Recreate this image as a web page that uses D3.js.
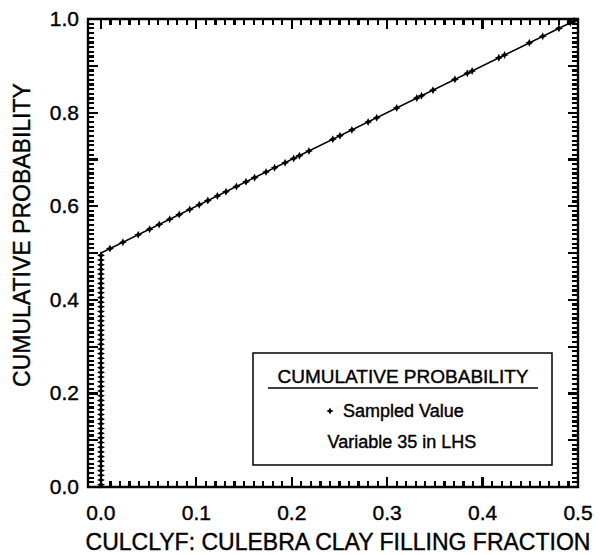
<!DOCTYPE html>
<html><head><meta charset="utf-8">
<script src="https://cdn.jsdelivr.net/npm/d3@7"></script>
<style>body{margin:0;background:#fff}</style>
</head><body><svg id="c" width="600" height="555"></svg>
<script>
const xTickValues=[0,0.1,0.2,0.3,0.4,0.5];
const xTickLabels=["0.0","0.1","0.2","0.3","0.4","0.5"];
const yTickValues=[0,0.2,0.4,0.6,0.8,1.0];
const yTickLabels=["0.0","0.2","0.4","0.6","0.8","1.0"];
const cdfX=[0,0,0.5];
const cdfY=[0,0.5,1.0];
const zeroSampleProbs=[0.005,0.015,0.025,0.035,0.045,0.055,0.065,0.075,0.085,0.095,0.105,0.115,0.125,0.135,0.145,0.155,0.165,0.175,0.185,0.195,0.205,0.215,0.225,0.235,0.245,0.255,0.265,0.275,0.285,0.295,0.305,0.315,0.325,0.335,0.345,0.355,0.365,0.375,0.385,0.395,0.405,0.415,0.425,0.435,0.445,0.455,0.465,0.475,0.485,0.495];
const positiveSamples=[0.0094,0.023,0.039,0.051,0.061,0.072,0.082,0.093,0.103,0.112,0.122,0.131,0.142,0.152,0.161,0.173,0.182,0.193,0.202,0.208,0.218,0.243,0.2505,0.263,0.280,0.289,0.310,0.331,0.336,0.348,0.371,0.384,0.389,0.417,0.423,0.449,0.463,0.480,0.492,0.496];
const xLabel="CULCLYF: CULEBRA CLAY FILLING FRACTION";
const yLabel="CUMULATIVE PROBABILITY";
const legendTitle="CUMULATIVE PROBABILITY";
const legendItem="Sampled Value";
const legendNote="Variable 35 in LHS";

const FONT="Liberation Sans, Arial, sans-serif";
const svg=d3.select("#c");
const L=88,R=578,T=19,B=487;
const x=d3.scaleLinear().domain([-0.0136,0.5]).range([L,R]);
const y=d3.scaleLinear().domain([0,1]).range([B,T]);
const minorX=[];for(let i=0;i<=50;i++)minorX.push(i/100);
const minorY=[];for(let i=0;i<=100;i++)minorY.push(i/100);
const isMajor=d=>Math.abs(d*10-Math.round(d*10))<1e-6;
const MINOR=6,MAJOR=10;

svg.append("path").attr("d",`M${L},${T}H${R}V${B}H${L}Z`).attr("fill","none").attr("stroke","#000").attr("stroke-width",2.4);

const tk=svg.append("g").attr("stroke","#000").attr("stroke-width",2.2).attr("shape-rendering","crispEdges");
tk.selectAll("line.b").data(minorX).join("line").attr("class","b")
  .attr("x1",d=>x(d)).attr("x2",d=>x(d)).attr("y1",B).attr("y2",d=>B-(isMajor(d)?MAJOR:MINOR));
tk.selectAll("line.t").data(minorX).join("line").attr("class","t")
  .attr("x1",d=>x(d)).attr("x2",d=>x(d)).attr("y1",T).attr("y2",d=>T+(isMajor(d)?MAJOR:MINOR));
tk.selectAll("line.l").data(minorY).join("line").attr("class","l")
  .attr("y1",d=>y(d)).attr("y2",d=>y(d)).attr("x1",L).attr("x2",d=>L+(isMajor(d)?MAJOR:MINOR));
tk.selectAll("line.r").data(minorY).join("line").attr("class","r")
  .attr("y1",d=>y(d)).attr("y2",d=>y(d)).attr("x1",R).attr("x2",d=>R-(isMajor(d)?MAJOR:MINOR));

function txt(sel){return sel.attr("font-family",FONT).attr("fill","#000").attr("stroke","#000").attr("stroke-width",0.4);}
txt(svg.append("g").selectAll("text").data(xTickValues).join("text"))
  .attr("x",d=>x(d)).attr("y",520).attr("text-anchor","middle").attr("font-size",21)
  .text((d,i)=>xTickLabels[i]);
txt(svg.append("g").selectAll("text").data(yTickValues).join("text"))
  .attr("x",79).attr("y",d=>y(d)+7).attr("text-anchor","end").attr("font-size",21)
  .text((d,i)=>yTickLabels[i]);

txt(svg.append("text")).attr("x",338).attr("y",550).attr("text-anchor","middle").attr("font-size",23).text(xLabel);
txt(svg.append("text")).attr("transform","translate(30,235) rotate(-90)").attr("text-anchor","middle").attr("font-size",23).text(yLabel);

const line=d3.line().x(d=>x(d[0])).y(d=>y(d[1]));
svg.append("path").datum(cdfX.map((v,i)=>[v,cdfY[i]])).attr("d",line)
  .attr("fill","none").attr("stroke","#000").attr("stroke-width",1.5);

const star="M0,-4L1.3,-1.3L4,0L1.3,1.3L0,4L-1.3,1.3L-4,0L-1.3,-1.3Z";
const pts=zeroSampleProbs.map(p=>[0,p]).concat(positiveSamples.map(v=>[v,0.5+v]));
svg.append("g").selectAll("path").data(pts).join("path")
  .attr("d",star).attr("transform",d=>`translate(${x(d[0])},${y(d[1])})`).attr("fill","#000");

const lg=svg.append("g");
lg.append("rect").attr("x",253).attr("y",353).attr("width",299).attr("height",112)
  .attr("fill","#fff").attr("stroke","#000").attr("stroke-width",1.5);
txt(lg.append("text")).attr("x",403).attr("y",383).attr("text-anchor","middle").attr("font-size",19).text(legendTitle);
lg.append("line").attr("x1",268).attr("x2",538).attr("y1",388).attr("y2",388).attr("stroke","#000").attr("stroke-width",1.5);
lg.append("path").attr("d",star).attr("transform","translate(330,411) scale(0.9)").attr("fill","#000");
txt(lg.append("text")).attr("x",343).attr("y",417).attr("font-size",18).text(legendItem);
txt(lg.append("text")).attr("x",402).attr("y",448).attr("text-anchor","middle").attr("font-size",18).text(legendNote);
</script></body></html>
